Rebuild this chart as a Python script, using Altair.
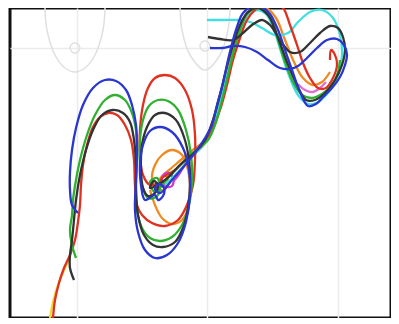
import altair as alt
import pandas as pd

# faint background contours (pixel-like coordinates)
contour1_x = [45, 47, 55, 65, 75, 85, 95, 103, 105]
contour1_y = [8, 30, 55, 68, 72, 68, 55, 30, 8]
ring1_x = [80, 78, 75, 72, 70, 72, 75, 78, 80]
ring1_y = [48, 52, 53, 52, 48, 44, 43, 44, 48]
contour2_x = [180, 182, 190, 205, 220, 228, 230]
contour2_y = [8, 30, 55, 70, 55, 30, 8]
ring2_x = [210, 208, 205, 202, 200, 202, 205, 208, 210]
ring2_y = [46, 50, 51, 50, 46, 42, 41, 42, 46]

yellow_x = [50, 53, 58, 65, 70]
yellow_y = [318, 302, 285, 268, 258]

orange_x = [150, 155, 162, 172, 182, 188, 190, 188, 182, 172, 162, 155, 152, 156, 164, 168, 165, 160,
            175, 190, 205, 213, 220, 228, 236, 245, 255, 266, 276, 285, 294, 303, 313, 322, 330]
orange_y = [190, 205, 218, 224, 220, 208, 190, 170, 155, 150, 155, 165, 178, 188, 190, 183, 175, 178,
            165, 152, 140, 120, 95, 68, 42, 20, 10, 8, 18, 40, 62, 78, 85, 82, 72]

magenta_x = [174, 172, 168, 163, 162, 166, 171, 174, 185, 198, 208]
magenta_y = [180, 186, 187, 184, 178, 173, 174, 180, 165, 150, 138]
pink_x = [298, 305, 313, 320, 326]
pink_y = [84, 90, 92, 88, 82]

cyan_x = [165, 178, 192, 205, 213, 220, 228, 235, 242, 250, 258, 266, 274, 282, 290, 298, 308, 318, 330,
          338, 342, 340, 333, 322, 310, 298, 288, 275, 262, 250, 238, 222, 207]
cyan_y = [185, 172, 157, 143, 125, 100, 72, 48, 28, 14, 10, 14, 30, 55, 78, 95, 104, 102, 90,
          75, 55, 35, 18, 10, 12, 22, 33, 35, 28, 22, 20, 20, 20]

red_x = [53, 55, 59, 64, 70, 75, 78, 80, 81, 83, 87, 93, 100, 108, 117, 125, 131, 134, 135, 137,
         142, 152, 165, 178, 187, 193, 195, 195, 192, 185, 175, 165, 155, 148, 143, 140, 140, 143, 150,
         158, 162, 175, 190, 203, 212, 220, 227, 233, 240, 247, 255, 265, 275, 283, 290, 297, 303, 310,
         318, 326, 333, 337, 335, 331, 330]
red_y = [318, 300, 283, 268, 255, 240, 222, 205, 185, 165, 145, 127, 117, 113, 115, 125, 140, 160, 185, 205,
         215, 223, 226, 220, 205, 185, 160, 135, 110, 90, 78, 75, 78, 88, 105, 130, 155, 175, 185,
         183, 178, 170, 155, 145, 130, 110, 85, 60, 38, 20, 10, 4, 4, 8, 25, 45, 63, 78,
         88, 88, 78, 65, 55, 50, 60]

green_x = [76, 72, 70, 72, 73, 76, 80, 87, 95, 105, 115, 125, 132, 136, 137, 136, 137, 142, 150, 160,
           172, 182, 189, 192, 191, 186, 178, 168, 158, 149, 143, 140, 140, 142, 148, 156, 160, 157, 150,
           155, 168, 182, 196, 208, 215, 222, 228, 234, 240, 247, 256, 265, 272, 278, 285, 293, 302, 312,
           322, 332, 338, 340]
green_y = [258, 245, 230, 215, 200, 180, 160, 135, 115, 100, 95, 100, 113, 130, 155, 185, 210, 228, 238, 241,
           237, 225, 205, 180, 155, 130, 110, 101, 100, 106, 120, 140, 165, 185, 198, 197, 188, 178, 182,
           192, 178, 163, 150, 140, 125, 100, 75, 50, 30, 14, 8, 10, 20, 40, 62, 82, 95, 98,
           94, 85, 72, 60]

black_x = [74, 70, 70, 72, 74, 76, 80, 86, 93, 102, 113, 123, 130, 134, 136, 136, 138, 144, 153, 163,
           175, 183, 188, 190, 189, 184, 176, 165, 155, 147, 142, 141, 143, 148, 155, 158, 154, 150,
           165, 180, 195, 205, 213, 220, 226, 233, 240, 248, 258, 268, 277, 287, 297, 306, 315, 325,
           335, 342, 345, 343, 338, 330, 320, 310, 300, 290, 280, 270, 262, 252, 243, 233, 220, 208]
black_y = [280, 268, 255, 240, 220, 200, 175, 150, 130, 115, 110, 113, 122, 140, 165, 190, 215, 235, 245, 247,
           242, 228, 208, 185, 160, 137, 120, 113, 115, 127, 145, 170, 188, 196, 193, 186, 181, 188,
           180, 165, 152, 140, 120, 95, 70, 45, 25, 12, 8, 15, 35, 62, 85, 100, 100, 93,
           80, 65, 50, 37, 28, 26, 33, 43, 52, 52, 40, 25, 20, 25, 33, 40, 39, 37]

blue_x = [78, 72, 70, 70, 72, 76, 83, 93, 105, 116, 126, 132, 136, 137, 136, 135, 138, 145, 155, 167,
          178, 186, 190, 189, 183, 172, 160, 150, 143, 140, 141, 145, 155, 158, 163, 164, 159, 155, 160,
          172, 185, 197, 205, 212, 217, 223, 228, 233, 238, 243, 253, 262, 270, 278, 285, 292, 300, 308,
          316, 323, 332, 340, 345, 347, 344, 337, 327, 317, 307, 298, 290, 280, 268, 257, 245, 233, 222, 210]
blue_y = [213, 205, 190, 172, 150, 128, 105, 88, 80, 81, 90, 105, 125, 150, 180, 210, 232, 250, 258, 255,
          243, 222, 195, 170, 148, 132, 127, 131, 145, 165, 185, 200, 195, 200, 196, 188, 184, 189, 193,
          180, 165, 150, 138, 125, 105, 83, 60, 40, 24, 13, 6, 7, 14, 30, 50, 70, 92, 106,
          104, 97, 88, 77, 65, 55, 45, 39, 40, 48, 58, 66, 69, 68, 60, 52, 47, 46, 48, 48]

gray_series = [
    ("c1", contour1_x, contour1_y), ("r1", ring1_x, ring1_y),
    ("c2", contour2_x, contour2_y), ("r2", ring2_x, ring2_y),
]
color_series = [
    ("yellow", yellow_x, yellow_y),
    ("orange", orange_x, orange_y),
    ("magenta", magenta_x, magenta_y),
    ("pink", pink_x, pink_y),
    ("cyan", cyan_x, cyan_y),
    ("red", red_x, red_y),
    ("green", green_x, green_y),
    ("black", black_x, black_y),
    ("blue", blue_x, blue_y),
]
names = [s[0] for s in color_series]
colors = ["#f0dc30", "#f08a20", "#cc3fcc", "#e070d0", "#3fe0e0", "#e03020", "#2fb030", "#333333", "#2a36d0"]

def build(series):
    rows = []
    for name, xs, ys in series:
        for i, (x, y) in enumerate(zip(xs, ys)):
            rows.append({"name": name, "x": x, "y": y, "i": i})
    return pd.DataFrame(rows)

gdf = build(gray_series)
cdf = build(color_series)

xs = alt.Scale(domain=[10, 391], nice=False, zero=False)
ys = alt.Scale(domain=[8, 318], reverse=True, nice=False, zero=False)
xax = alt.Axis(values=[77, 207, 338], grid=True, labels=False, ticks=False, domain=False,
               title=None, gridColor="#ececec", gridWidth=1.5)
yax = alt.Axis(values=[48], grid=True, labels=False, ticks=False, domain=False,
               title=None, gridColor="#ececec", gridWidth=1.5)

gray = alt.Chart(gdf).mark_line(interpolate="catmull-rom", strokeWidth=1.5, color="#e0e0e0", clip=True).encode(
    x=alt.X("x:Q", scale=xs, axis=xax),
    y=alt.Y("y:Q", scale=ys, axis=yax),
    detail="name:N",
    order="i:Q",
)

lines = alt.Chart(cdf).mark_line(interpolate="catmull-rom", strokeWidth=2.3, clip=True).encode(
    x=alt.X("x:Q", scale=xs),
    y=alt.Y("y:Q", scale=ys),
    color=alt.Color("name:N", scale=alt.Scale(domain=names, range=colors), legend=None),
    detail="name:N",
    order="i:Q",
)

chart = alt.layer(gray, lines).properties(
    width=381, height=310,
    padding={"left": 2, "top": 0, "right": 0, "bottom": 0},
    autosize=alt.AutoSizeParams(type="none"),
    background="white",
).configure_view(stroke="#111111", strokeWidth=3)

chart.save("out.html", embed_options={"renderer": "svg", "actions": False})
